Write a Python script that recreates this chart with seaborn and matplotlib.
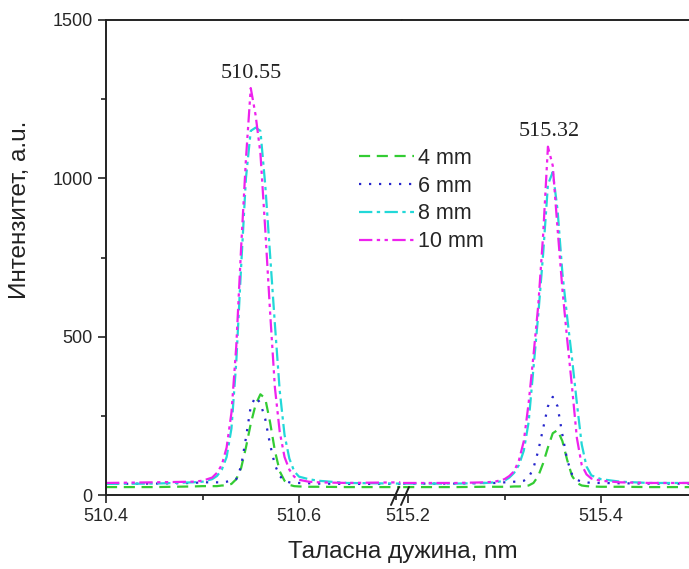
import numpy as np
import pandas as pd
import matplotlib
matplotlib.use("Agg")
import matplotlib.pyplot as plt
import seaborn as sns
from matplotlib.lines import Line2D
from matplotlib.ticker import MultipleLocator

# Wavelength grids (nm) for the two segments of the broken axis
wl_left = [510.40, 510.45, 510.49, 510.50, 510.51, 510.515, 510.52, 510.525, 510.53,
           510.535, 510.54, 510.545, 510.55, 510.555, 510.56, 510.565, 510.57, 510.575,
           510.58, 510.585, 510.59, 510.595, 510.60, 510.61, 510.62, 510.65, 510.705]
wl_right = [515.195, 515.25, 515.28, 515.29, 515.30, 515.305, 515.31, 515.315, 515.32,
            515.325, 515.33, 515.335, 515.34, 515.345, 515.35, 515.355, 515.36, 515.365,
            515.37, 515.375, 515.38, 515.385, 515.39, 515.40, 515.42, 515.45, 515.495]

# Intensity (a.u.) per distance
i4_left = [25, 25, 27, 28, 28, 28, 30, 30, 35, 50, 85, 150, 225, 285, 318, 305, 230, 140,
           75, 45, 32, 28, 27, 26, 26, 25, 25]
i6_left = [35, 36, 38, 40, 40, 40, 40, 42, 45, 50, 90, 180, 280, 310, 290, 240, 160, 95,
           60, 45, 40, 38, 38, 37, 36, 35, 35]
i8_left = [35, 36, 40, 42, 50, 60, 80, 120, 210, 420, 720, 1000, 1150, 1160, 1150, 980, 760,
           540, 330, 190, 115, 75, 58, 50, 45, 38, 36]
i10_left = [38, 40, 42, 45, 55, 70, 95, 150, 260, 470, 780, 1060, 1285, 1200, 1080, 840, 580,
            340, 200, 120, 80, 58, 48, 42, 40, 38, 40]

i4_right = [25, 25, 26, 26, 26, 26, 27, 27, 28, 30, 38, 60, 100, 150, 195, 205, 170, 110,
            60, 38, 30, 28, 27, 26, 26, 25, 25]
i6_right = [36, 36, 38, 38, 40, 40, 42, 42, 45, 55, 85, 140, 210, 280, 310, 280, 190, 110,
            65, 48, 42, 40, 38, 38, 37, 36, 36]
i8_right = [36, 36, 38, 40, 45, 55, 70, 95, 140, 230, 400, 570, 760, 980, 1020, 900, 700, 560,
            430, 290, 160, 90, 62, 50, 42, 38, 38]
i10_right = [38, 38, 40, 42, 50, 60, 75, 110, 170, 290, 440, 600, 820, 1100, 1040, 840, 650,
             490, 340, 180, 95, 65, 52, 45, 40, 38, 38]

labels = ["4 mm", "6 mm", "8 mm", "10 mm"]
colors = ["#33cc33", "#2626cc", "#22d8d8", "#ee22ee"]
dashes = [(5, 3), (1, 3.5), (6, 2, 1.5, 2), (6, 2, 1.5, 2, 1.5, 2)]
peak_labels = ["510.55", "515.32"]
peak_pos = [(510.551, 1300), (515.346, 1118)]

sns.set_style("ticks")
plt.rcParams["font.family"] = ["Liberation Sans", "DejaVu Sans"]

fig = plt.figure(figsize=(6.89, 5.69), dpi=100)
W, H = 689, 569
axL = fig.add_axes([106 / W, 74 / H, 296 / W, 475 / H])
axR = fig.add_axes([402 / W, 74 / H, 300 / W, 475 / H], sharey=axL)

left_sets = [i4_left, i6_left, i8_left, i10_left]
right_sets = [i4_right, i6_right, i8_right, i10_right]
for k in range(4):
    df_l = pd.DataFrame({"wl": wl_left, "I": left_sets[k]})
    df_r = pd.DataFrame({"wl": wl_right, "I": right_sets[k]})
    sns.lineplot(data=df_l, x="wl", y="I", ax=axL, color=colors[k], lw=1.6,
                 dashes=False, legend=False)
    sns.lineplot(data=df_r, x="wl", y="I", ax=axR, color=colors[k], lw=1.6,
                 dashes=False, legend=False)
    axL.lines[-1].set_dashes(dashes[k])
    axR.lines[-1].set_dashes(dashes[k])

axL.set_xlim(510.4, 510.4 + 296 / 965)
axR.set_xlim(515.2 - 6 / 965, 515.2 + 294 / 965)
axL.set_ylim(0, 1500)

for ax in (axL, axR):
    ax.set_xlabel("")
    ax.set_ylabel("")
    ax.xaxis.set_major_locator(MultipleLocator(0.2))
    ax.xaxis.set_minor_locator(MultipleLocator(0.1))
    ax.tick_params(axis="both", which="major", length=6, width=1.2, labelsize=13,
                   direction="out", color="#222222")
    ax.tick_params(axis="both", which="minor", length=3.5, width=1.2, direction="out",
                   color="#222222")
    for s in ax.spines.values():
        s.set_linewidth(1.4)
        s.set_color("#222222")

axL.yaxis.set_major_locator(MultipleLocator(500))
axL.yaxis.set_minor_locator(MultipleLocator(250))
axL.spines["right"].set_visible(False)
axR.spines["left"].set_visible(False)
axR.tick_params(axis="y", which="both", left=False, labelleft=False)
axL.set_xticks([510.4, 510.6])
axL.set_xticklabels(["510.4", "510.6"])
axR.set_xticks([515.2, 515.4])
axR.set_xticklabels(["515.2", "515.4"])

# break marks on the x axis
for cx in (395, 405):
    fig.add_artist(Line2D([(cx - 4) / W, (cx + 4) / W], [(H - 505) / H, (H - 487) / H],
                          color="#222222", lw=1.4))

# peak annotations
axL.text(peak_pos[0][0], peak_pos[0][1], peak_labels[0], ha="center", va="bottom",
         fontsize=16, family=["Liberation Serif", "DejaVu Serif"], color="#222222")
axR.text(peak_pos[1][0], peak_pos[1][1], peak_labels[1], ha="center", va="bottom",
         fontsize=16, family=["Liberation Serif", "DejaVu Serif"], color="#222222")

fig.text(403 / W, (H - 552) / H, "Таласна дужина, nm", ha="center", va="center",
         fontsize=17.5, color="#222222")
fig.text(20 / W, (H - 210) / H, "Интензитет, a.u.", ha="center", va="center",
         rotation=90, fontsize=17.5, color="#222222")

handles = [Line2D([], [], color=colors[k], lw=1.6, dashes=dashes[k]) for k in range(4)]
fig.legend(handles, labels, loc="upper left", bbox_to_anchor=(350 / W, 1 - 139 / H),
           frameon=False, fontsize=15.5, handlelength=2.55, handletextpad=0.2,
           labelspacing=0.32, borderaxespad=0)

fig.savefig("out.png", dpi=100)
